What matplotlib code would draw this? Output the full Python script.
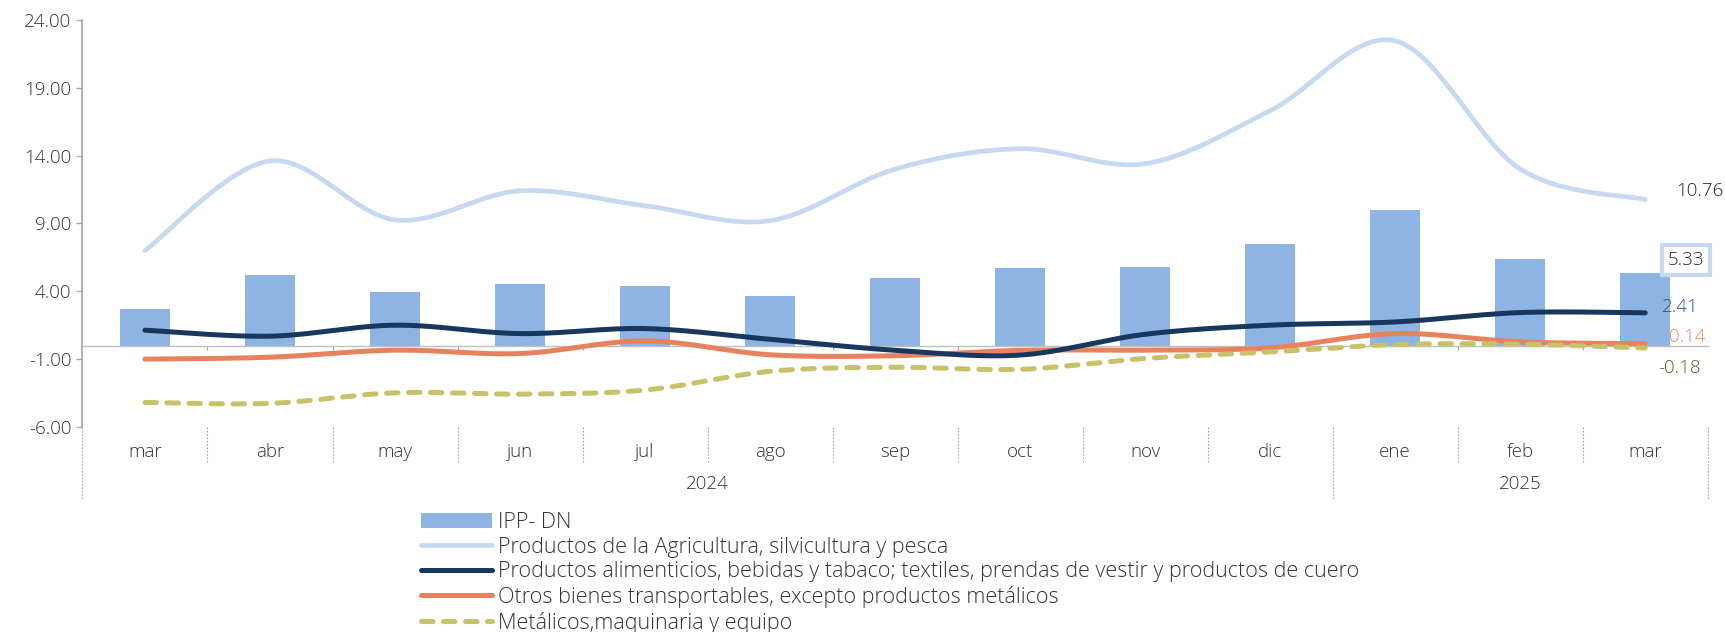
import matplotlib
matplotlib.use("Agg")
import matplotlib.pyplot as plt
import numpy as np

plt.rcParams['font.family'] = ['Open Sans', 'DejaVu Sans']
plt.rcParams['font.weight'] = 'light'

# monthly values
months = ['mar', 'abr', 'may', 'jun', 'jul', 'ago', 'sep', 'oct', 'nov', 'dic',
          'ene', 'feb', 'mar']
years = ['2024', '2025']
year_spans = [(0, 9), (10, 12)]

ipp_dn = [2.67, 5.22, 3.92, 4.51, 4.39, 3.62, 5.0, 5.73, 5.78, 7.48, 10.02, 6.40, 5.33]
agricultura = [7.0, 13.6, 9.26, 11.4, 10.3, 9.2, 13.0, 14.5, 13.4, 17.3, 22.45, 13.0, 10.76]
alimenticios = [1.13, 0.69, 1.5, 0.88, 1.25, 0.46, -0.35, -0.7, 0.83, 1.5, 1.74, 2.43, 2.41]
otros = [-1.0, -0.86, -0.34, -0.59, 0.34, -0.68, -0.75, -0.35, -0.34, -0.17, 0.88, 0.27, 0.14]
metalicos = [-4.19, -4.26, -3.48, -3.58, -3.28, -1.9, -1.6, -1.75, -0.95, -0.47, 0.07, 0.10, -0.18]

labels = ['IPP- DN',
          'Productos de la Agricultura, silvicultura y pesca',
          'Productos alimenticios, bebidas y tabaco; textiles, prendas de vestir y productos de cuero',
          'Otros bienes transportables, excepto productos metálicos',
          'Metálicos,maquinaria y equipo']


def smooth(y, n=30):
    # Excel-like smoothed line (Catmull-Rom through the points)
    y = np.asarray(y, dtype=float)
    x = np.arange(len(y), dtype=float)
    xs, ys = [], []
    for i in range(len(y) - 1):
        p0 = max(i - 1, 0)
        p3 = min(i + 2, len(y) - 1)
        cx1 = x[i] + (x[i + 1] - x[p0]) / 6
        cx2 = x[i + 1] - (x[p3] - x[i]) / 6
        cy1 = y[i] + (y[i + 1] - y[p0]) / 6
        cy2 = y[i + 1] - (y[p3] - y[i]) / 6
        t = np.linspace(0, 1, n, endpoint=(i == len(y) - 2))
        b0, b1, b2, b3 = (1 - t) ** 3, 3 * t * (1 - t) ** 2, 3 * t ** 2 * (1 - t), t ** 3
        xs.append(b0 * x[i] + b1 * cx1 + b2 * cx2 + b3 * x[i + 1])
        ys.append(b0 * y[i] + b1 * cy1 + b2 * cy2 + b3 * y[i + 1])
    return np.concatenate(xs), np.concatenate(ys)


c_bar = '#8DB4E2'
c_agri = '#C6D9F1'
c_alim = '#17375E'
c_otros = '#E8825E'
c_metal = '#C9C168'
c_grid = '#A6A6A6'
c_text = '#333333'

fig = plt.figure(figsize=(17.25, 6.32), dpi=100)
ax = fig.add_axes([0.0478, 0.3244, 0.9422, 0.6443])

x = np.arange(len(months))
h_bar = ax.bar(x, ipp_dn, width=0.4, color=c_bar, label=labels[0], zorder=2)

sx, sy = smooth(agricultura)
h_agri, = ax.plot(sx, sy, color=c_agri, lw=3.4, solid_capstyle='round', label=labels[1], zorder=3)
sx, sy = smooth(alimenticios)
h_alim, = ax.plot(sx, sy, color=c_alim, lw=3.6, solid_capstyle='round', label=labels[2], zorder=5)
sx, sy = smooth(otros)
h_otros, = ax.plot(sx, sy, color=c_otros, lw=3.6, solid_capstyle='round', label=labels[3], zorder=4)
sx, sy = smooth(metalicos)
h_metal, = ax.plot(sx, sy, color=c_metal, lw=3.6, dashes=(2.3, 2.1), dash_capstyle='round',
                   label=labels[4], zorder=4)

ax.set_xlim(-0.5, len(months) - 0.5)
ax.set_ylim(-6, 24)
ax.set_yticks(np.arange(-6, 25, 5))
ax.set_yticklabels(['%.2f' % v for v in np.arange(-6, 25, 5)])
ax.tick_params(axis='y', direction='out', length=4, width=1, color=c_grid,
               labelsize=13.5, labelcolor=c_text, pad=4)

for s in ['top', 'right']:
    ax.spines[s].set_visible(False)
ax.spines['left'].set_color(c_grid)
ax.spines['left'].set_linewidth(1.2)
ax.spines['bottom'].set_position(('data', 0))
ax.spines['bottom'].set_color('#BFBFBF')
ax.spines['bottom'].set_linewidth(1)
ax.spines['bottom'].set_linestyle((0, (1, 1)))
ax.set_xticks(x[:-1] + 0.5)
ax.set_xticklabels([])
ax.tick_params(axis='x', direction='out', length=3, color=c_grid)

# category labels and separators below the plot
tr = ax.get_xaxis_transform()
for i, m in enumerate(months):
    ax.text(i, -0.061, m, transform=tr, ha='center', va='center', fontsize=13.5,
            color=c_text)
for b in np.arange(-0.5, len(months), 1.0):
    low = -0.088
    if b in (-0.5, year_spans[0][1] + 0.5, len(months) - 0.5):
        low = -0.177
    ax.plot([b, b], [0, low], transform=tr, color=c_grid, lw=0.8,
            dashes=(1.5, 1.5), clip_on=False)
for yname, (a, b) in zip(years, year_spans):
    ax.text((a + b) / 2, -0.14, yname, transform=tr, ha='center', va='center',
            fontsize=13.5, color=c_text)

# end-of-series labels
last = len(months) - 1
lab = dict(textcoords='offset points', ha='center', va='center', fontsize=13.5,
           annotation_clip=False)
ax.annotate('%.2f' % agricultura[-1], (last, agricultura[-1]), xytext=(39, 6),
            color='#262626', **lab)
ax.annotate('%.2f' % ipp_dn[-1], (last, ipp_dn[-1]), xytext=(29.5, 9.5),
            color='#262626', bbox=dict(boxstyle='square,pad=0.3', fc='white', ec=c_agri, lw=3),
            **lab)
ax.annotate('%.2f' % alimenticios[-1], (last, alimenticios[-1]), xytext=(25, 4),
            color='#2F4F80', **lab)
ax.annotate('%.2f' % otros[-1], (last, otros[-1]), xytext=(30, 5),
            color=c_otros, **lab)
ax.annotate('%.2f' % metalicos[-1], (last, metalicos[-1]), xytext=(24.5, -14.5),
            color='#5F6428', **lab)

fig.legend([h_bar, h_agri, h_alim, h_otros, h_metal], labels,
           loc='upper left', bbox_to_anchor=(0.244, 0.190), frameon=False,
           fontsize=15.5, handlelength=3.3, handletextpad=0.3, labelspacing=0.17,
           borderpad=0, borderaxespad=0, labelcolor=c_text)

fig.savefig('out.png', dpi=100)
